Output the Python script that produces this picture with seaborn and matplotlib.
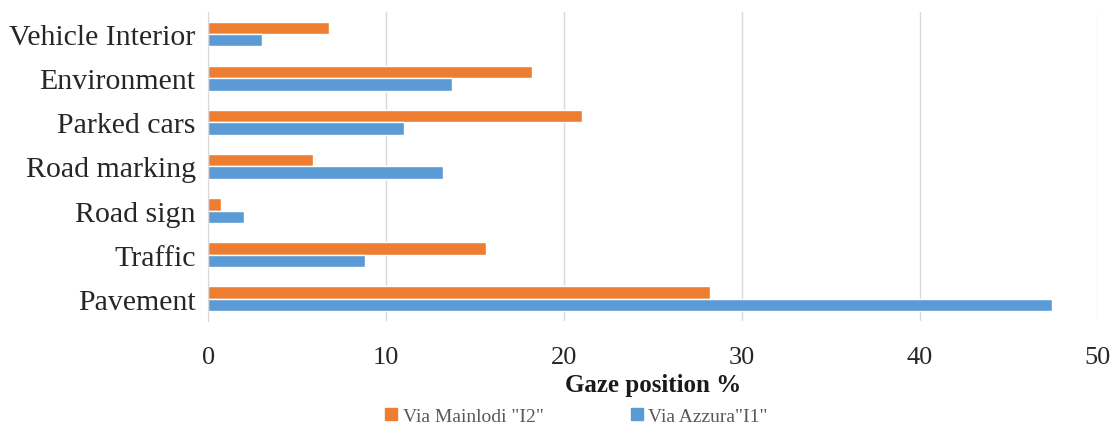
import pandas as pd
import matplotlib.pyplot as plt
import seaborn as sns

categories = ["Vehicle Interior", "Environment", "Parked cars", "Road marking",
              "Road sign", "Traffic", "Pavement"]
mainlodi = [6.8, 18.2, 21.0, 5.9, 0.7, 15.6, 28.2]   # Via Mainlodi "I2"
azzura = [3.0, 13.7, 11.0, 13.2, 2.0, 8.8, 47.4]     # Via Azzura"I1"

series_names = ['Via Mainlodi "I2"', 'Via Azzura"I1"']
colors = ["#ED7D31", "#5B9BD5"]

df = pd.DataFrame({
    "category": categories * 2,
    "value": mainlodi + azzura,
    "series": [series_names[0]] * len(categories) + [series_names[1]] * len(categories),
})

sns.set_style("white")
plt.rcParams["font.family"] = ["Liberation Serif", "DejaVu Serif"]

fig = plt.figure(figsize=(11.13, 4.35), dpi=100)
ax = fig.add_axes([0.1870, 0.260, 0.7995, 0.710])

sns.barplot(data=df, x="value", y="category", hue="series", order=categories,
            hue_order=series_names, palette=colors, orient="h", width=0.56,
            saturation=1, ax=ax, legend=False)

ax.set_xlim(0, 50)
ax.set_xticks(range(0, 51, 10))
ax.grid(axis="x", color="#D9D9D9", linewidth=1)
ax.set_axisbelow(True)
for s in ["top", "right", "bottom"]:
    ax.spines[s].set_visible(False)
ax.spines["left"].set_color("#D9D9D9")
ax.tick_params(axis="x", length=0, pad=18, labelsize=19, labelcolor="#262626")
ax.tick_params(axis="y", length=0, pad=9, labelsize=21.5, labelcolor="#262626")
ax.set_ylabel("")
ax.set_xlabel("Gaze position %", fontsize=18, fontweight="bold", labelpad=4,
              color="#1a1a1a")

handles = [plt.Rectangle((0, 0), 1, 1, color=c) for c in colors]
fig.legend(handles, series_names, loc="center", bbox_to_anchor=(0.518, 0.04),
           ncol=2, frameon=False, fontsize=14, handlelength=0.6, handleheight=0.6,
           handletextpad=0.3, columnspacing=4.5, labelcolor="#595959")

plt.savefig("out.png", dpi=100)
